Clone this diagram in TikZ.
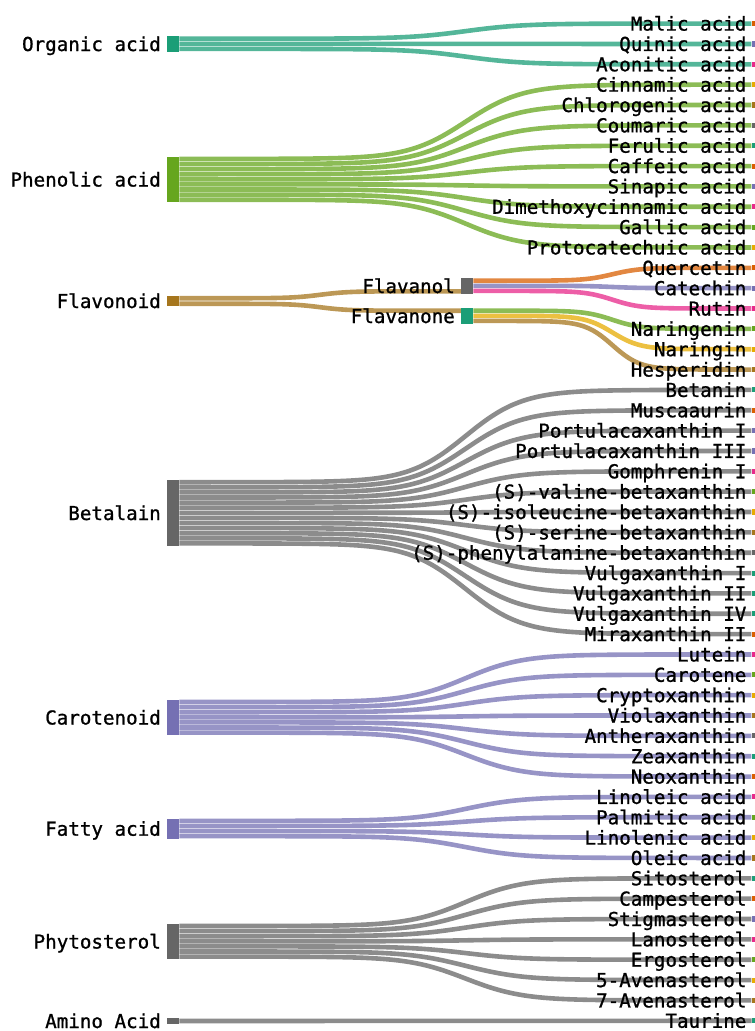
\documentclass[tikz,border=0pt]{standalone}
\usepackage{fontspec}
\newfontfamily\lblfont[FakeBold=1]{DejaVu Sans Mono}
\usetikzlibrary{positioning,calc}

% Dark2 palette
\definecolor{dkA}{HTML}{1B9E77}
\definecolor{dkB}{HTML}{D95F02}
\definecolor{dkC}{HTML}{7570B3}
\definecolor{dkD}{HTML}{E7298A}
\definecolor{dkE}{HTML}{66A61E}
\definecolor{dkF}{HTML}{E6AB02}
\definecolor{dkG}{HTML}{A6761D}
\definecolor{dkH}{HTML}{666666}

% name/colour/label of every compound, top to bottom
\def\leaflist{malic/dkB/Malic acid, quinic/dkC/Quinic acid, aconitic/dkD/Aconitic acid,
  cinnamic/dkF/Cinnamic acid, chlorogenic/dkG/Chlorogenic acid, coumaric/dkH/Coumaric acid,
  ferulic/dkA/Ferulic acid, caffeic/dkB/Caffeic acid, sinapic/dkC/Sinapic acid,
  dimethoxy/dkD/Dimethoxycinnamic acid, gallic/dkE/Gallic acid, protocat/dkF/Protocatechuic acid,
  quercetin/dkB/Quercetin, catechin/dkC/Catechin, rutin/dkD/Rutin,
  naringenin/dkE/Naringenin, naringin/dkF/Naringin, hesperidin/dkG/Hesperidin,
  betanin/dkA/Betanin, muscaaurin/dkB/Muscaaurin, portI/dkC/Portulacaxanthin I,
  portIII/dkC/Portulacaxanthin III, gomphrenin/dkD/Gomphrenin I,
  sval/dkE/(S)-valine-betaxanthin, sile/dkF/(S)-isoleucine-betaxanthin,
  sser/dkG/(S)-serine-betaxanthin, sphe/dkH/(S)-phenylalanine-betaxanthin,
  vulgI/dkA/Vulgaxanthin I, vulgII/dkA/Vulgaxanthin II, vulgIV/dkA/Vulgaxanthin IV,
  miraxII/dkB/Miraxanthin II,
  lutein/dkD/Lutein, carotene/dkE/Carotene, crypto/dkF/Cryptoxanthin, viola/dkG/Violaxanthin,
  anthera/dkH/Antheraxanthin, zea/dkA/Zeaxanthin, neo/dkB/Neoxanthin,
  linoleic/dkD/Linoleic acid, palmitic/dkE/Palmitic acid, linolenic/dkF/Linolenic acid,
  oleic/dkG/Oleic acid,
  sito/dkA/Sitosterol, campe/dkB/Campesterol, stigma/dkC/Stigmasterol, lano/dkD/Lanosterol,
  ergo/dkE/Ergosterol, aven5/dkF/5-Avenasterol, aven7/dkG/7-Avenasterol,
  taurine/dkA/Taurine}

\begin{document}
\begin{tikzpicture}[x=1pt, y=-1pt,
    srcbox/.style={rectangle, inner sep=0pt, minimum width=12pt, anchor=west},
    leafbox/.style={rectangle, inner sep=0pt, minimum width=3pt, minimum height=5.1pt, anchor=east},
    lbl/.style={inner sep=0pt, font=\lblfont\fontsize{19.2pt}{20pt}\selectfont,
      text height=14pt, text depth=0pt},
    flow/.style={line width=4.6pt},
    % sigmoid band, written so that exp() never gets a positive argument
    sflow/.style={to path={let \p1=(\tikztostart), \p2=(\tikztotarget) in
      plot[variable=\s, domain=0:1, samples=51, smooth]
      ({\x1+\s*(\x2-\x1)},
       {\y1+(\y2-\y1)*((\s<0.5) ? exp(-20*abs(\s-0.5))/(1+exp(-20*abs(\s-0.5))) : 1/(1+exp(-20*abs(\s-0.5))))})}}]
  \useasboundingbox (0,0) rectangle (755,1031);

  % compounds on the right edge
  \foreach \name/\col/\txt [count=\k from 0] in \leaflist
    \node[leafbox, fill=\col] (\name) at (755, {23.6+20.35*\k}) {};

  % classes
  \node[srcbox, fill=dkA, minimum height=15.3pt] (orgacid) at (167,44) {};
  \node[srcbox, fill=dkE, minimum height=45.9pt] (phenolic) at (167,179.5) {};
  \node[srcbox, fill=dkG, minimum height=10.2pt] (flavonoid) at (167,301) {};
  \node[srcbox, fill=dkH, minimum height=15.3pt] (flavanol) at (461,286) {};
  \node[srcbox, fill=dkA, minimum height=15.3pt] (flavanone) at (461,316) {};
  \node[srcbox, fill=dkH, minimum height=66.3pt] (betalain) at (167,513) {};
  \node[srcbox, fill=dkC, minimum height=35.7pt] (carotenoid) at (167,717.5) {};
  \node[srcbox, fill=dkC, minimum height=20.4pt] (fatty) at (167,828.7) {};
  \node[srcbox, fill=dkH, minimum height=35.7pt] (phyto) at (167,941.5) {};
  \node[srcbox, fill=dkH, minimum height=5.1pt] (amino) at (167,1021) {};

  % flows
  \foreach \leaf [count=\i] in {malic,quinic,aconitic}
    \draw[flow, draw=dkA!75!white] ([yshift={-(\i-0.5)*5.1pt}]orgacid.north east) to[sflow] (\leaf.west);
  \foreach \leaf [count=\i] in {cinnamic,chlorogenic,coumaric,ferulic,caffeic,sinapic,dimethoxy,gallic,protocat}
    \draw[flow, draw=dkE!75!white] ([yshift={-(\i-0.5)*5.1pt}]phenolic.north east) to[sflow] (\leaf.west);
  \draw[flow, draw=dkG!75!white] ([yshift=-2.55pt]flavonoid.north east) to[sflow] ([yshift=2.55pt]flavanol.south west);
  \draw[flow, draw=dkG!75!white] ([yshift=2.55pt]flavonoid.south east) to[sflow] ([yshift=-2.55pt]flavanone.north west);
  \foreach \leaf/\col [count=\i] in {quercetin/dkB,catechin/dkC,rutin/dkD}
    \draw[flow, draw=\col!75!white] ([yshift={-(\i-0.5)*5.1pt}]flavanol.north east) to[sflow] (\leaf.west);
  \foreach \leaf/\col [count=\i] in {naringenin/dkE,naringin/dkF,hesperidin/dkG}
    \draw[flow, draw=\col!75!white] ([yshift={-(\i-0.5)*5.1pt}]flavanone.north east) to[sflow] (\leaf.west);
  \foreach \leaf [count=\i] in {betanin,muscaaurin,portI,portIII,gomphrenin,sval,sile,sser,sphe,vulgI,vulgII,vulgIV,miraxII}
    \draw[flow, draw=dkH!75!white] ([yshift={-(\i-0.5)*5.1pt}]betalain.north east) to[sflow] (\leaf.west);
  \foreach \leaf [count=\i] in {lutein,carotene,crypto,viola,anthera,zea,neo}
    \draw[flow, draw=dkC!75!white] ([yshift={-(\i-0.5)*5.1pt}]carotenoid.north east) to[sflow] (\leaf.west);
  \foreach \leaf [count=\i] in {linoleic,palmitic,linolenic,oleic}
    \draw[flow, draw=dkC!75!white] ([yshift={-(\i-0.5)*5.1pt}]fatty.north east) to[sflow] (\leaf.west);
  \foreach \leaf [count=\i] in {sito,campe,stigma,lano,ergo,aven5,aven7}
    \draw[flow, draw=dkH!75!white] ([yshift={-(\i-0.5)*5.1pt}]phyto.north east) to[sflow] (\leaf.west);
  \draw[flow, draw=dkH!75!white] (amino.east) -- (taurine.west);

  % labels
  \foreach \name/\col/\txt in \leaflist
    \node[lbl, left=5pt of \name] {\txt};
  \node[lbl, left=6pt of orgacid] {Organic acid};
  \node[lbl, left=6pt of phenolic] {Phenolic acid};
  \node[lbl, left=6pt of flavonoid] {Flavonoid};
  \node[lbl, left=6pt of flavanol] {Flavanol};
  \node[lbl, left=6pt of flavanone] {Flavanone};
  \node[lbl, left=6pt of betalain] {Betalain};
  \node[lbl, left=6pt of carotenoid] {Carotenoid};
  \node[lbl, left=6pt of fatty] {Fatty acid};
  \node[lbl, left=6pt of phyto] {Phytosterol};
  \node[lbl, left=6pt of amino] {Amino Acid};
\end{tikzpicture}
\end{document}
